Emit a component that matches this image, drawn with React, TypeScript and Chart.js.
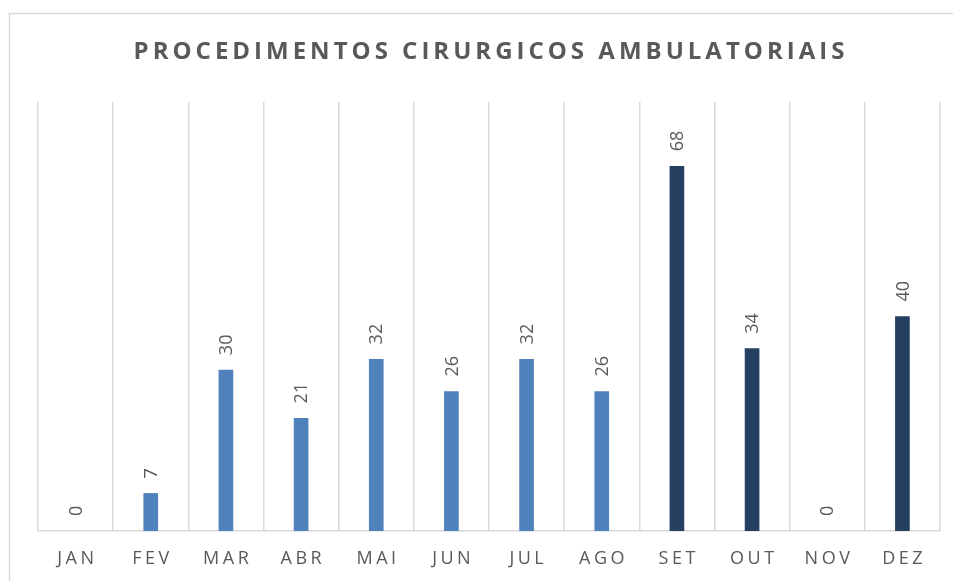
import React, { useEffect, useRef } from "react";
import { Chart, registerables } from "chart.js";

Chart.register(...registerables);

const TITLE = "PROCEDIMENTOS CIRURGICOS AMBULATORIAIS";
const months = ["JAN", "FEV", "MAR", "ABR", "MAI", "JUN", "JUL", "AGO", "SET", "OUT", "NOV", "DEZ"];
const values = [0, 7, 30, 21, 32, 26, 32, 26, 68, 34, 0, 40];
const darkFromIndex = 8;
const yMax = 80;

const LIGHT = "#4F81BD";
const DARK = "#243F60";
const TEXT = "#595959";
const GRID = "#D9D9D9";
const FONT = "'Open Sans', 'Noto Sans', sans-serif";

const W = 953;
const H = 581;

const decor = {
  id: "decor",
  beforeDraw(chart: any) {
    const ctx = chart.ctx;
    ctx.save();
    ctx.strokeStyle = GRID;
    ctx.lineWidth = 1.5;
    ctx.strokeRect(9.5, 13.5, 960, 620);
    ctx.restore();
  },
  afterDatasetsDraw(chart: any) {
    const ctx = chart.ctx;
    const meta = chart.getDatasetMeta(0);
    ctx.save();
    ctx.fillStyle = TEXT;
    ctx.font = `18px ${FONT}`;
    ctx.textAlign = "left";
    ctx.textBaseline = "middle";
    meta.data.forEach((bar: any, i: number) => {
      ctx.save();
      ctx.translate(bar.x, bar.y - 15);
      ctx.rotate(-Math.PI / 2);
      ctx.fillText(String(values[i]), 0, 1);
      ctx.restore();
    });
    ctx.restore();
  },
  afterDraw(chart: any) {
    const ctx = chart.ctx;
    const xs = chart.scales.x;
    const area = chart.chartArea;
    ctx.save();
    ctx.fillStyle = TEXT;
    ctx.textAlign = "center";
    ctx.textBaseline = "middle";
    ctx.font = `18px ${FONT}`;
    const ls = 3.5;
    (ctx as any).letterSpacing = `${ls}px`;
    months.forEach((m, i) => {
      ctx.fillText(m, xs.getPixelForValue(i) + ls / 2, 559);
    });
    const tls = 4;
    (ctx as any).letterSpacing = `${tls}px`;
    ctx.font = `bold 24px ${FONT}`;
    ctx.fillText(TITLE, (area.left + area.right) / 2 + tls / 2, 52);
    ctx.restore();
  },
};

export default function App() {
  const ref = useRef<HTMLCanvasElement | null>(null);
  useEffect(() => {
    if (!ref.current) return;
    const chart = new Chart(ref.current, {
      type: "bar",
      data: {
        labels: months,
        datasets: [
          {
            data: values,
            backgroundColor: values.map((v, i) =>
              v === 0 ? "rgba(0,0,0,0)" : i >= darkFromIndex ? DARK : LIGHT
            ),
            barThickness: 14,
          },
        ],
      },
      options: {
        responsive: false,
        animation: false,
        layout: { padding: { left: 38, right: 13, top: 102, bottom: 50 } },
        plugins: {
          legend: { display: false },
          title: { display: false },
          tooltip: { enabled: false },
        },
        scales: {
          x: {
            ticks: { display: false },
            grid: { display: true, offset: true, color: GRID, lineWidth: 1.5, drawTicks: false },
            border: { display: true, color: GRID, width: 1.5 },
          },
          y: {
            display: false,
            min: 0,
            max: yMax,
          },
        },
      },
      plugins: [decor],
    });
    return () => chart.destroy();
  }, []);
  return (
    <div style={{ position: "fixed", left: 0, top: 0, width: W, height: H, background: "#fff" }}>
      <canvas ref={ref} width={W} height={H} style={{ width: W, height: H, display: "block" }} />
    </div>
  );
}
